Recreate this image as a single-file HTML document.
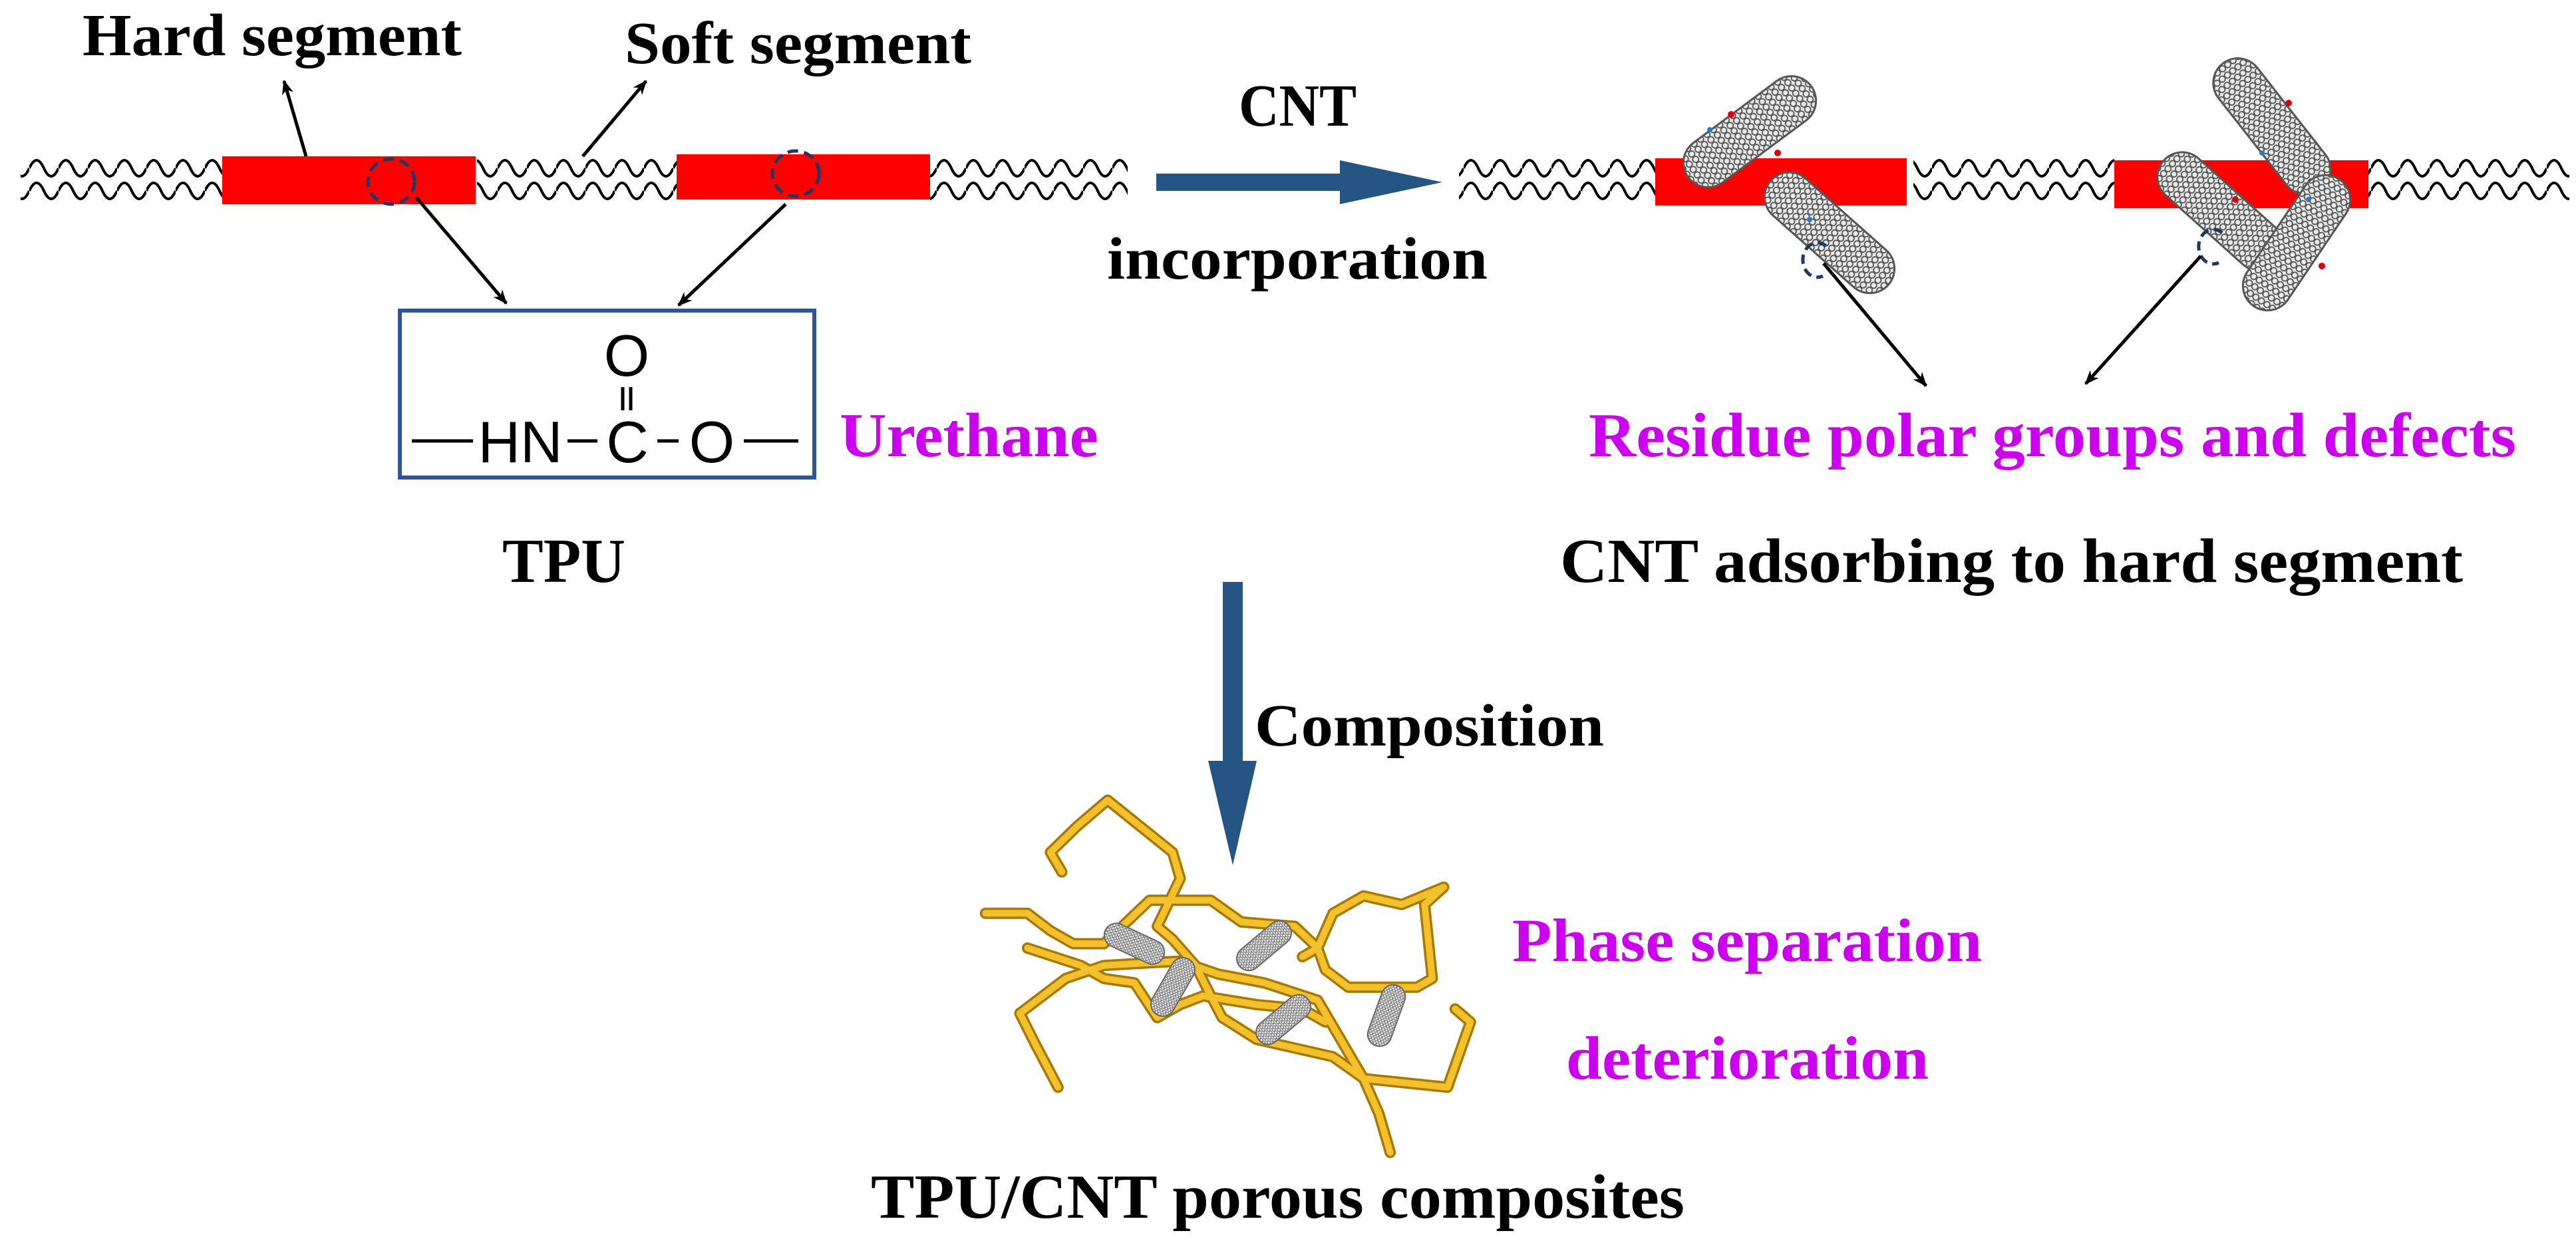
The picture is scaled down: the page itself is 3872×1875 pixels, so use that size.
<!DOCTYPE html>
<html><head><meta charset="utf-8"><style>
html,body{margin:0;padding:0;background:#fff;}
svg{display:block;}
.t{font-family:"Liberation Serif",serif;font-weight:bold;}
.m{fill:#cc00ee;}
</style></head><body>
<svg width="3872" height="1875" viewBox="0 0 3872 1875" xmlns="http://www.w3.org/2000/svg">
<defs>
<pattern id="wave" patternUnits="userSpaceOnUse" x="0" y="238" width="44" height="64">
<path d="M0,15 q11,-24 22,0 t22,0 M0,49 q11,-24 22,0 t22,0" fill="none" stroke="#000" stroke-width="4"/>
</pattern>
<pattern id="hex" patternUnits="userSpaceOnUse" width="12" height="10">
<rect width="12" height="10" fill="#eaeaea"/>
<circle cx="6" cy="5" r="4.5" fill="none" stroke="#555" stroke-width="1.8"/>
</pattern>
<pattern id="hex2" patternUnits="userSpaceOnUse" width="6" height="5">
<rect width="6" height="5" fill="#e4e4e4"/>
<circle cx="3" cy="2.5" r="2.2" fill="none" stroke="#666" stroke-width="1"/>
</pattern>
<marker id="arr" viewBox="0 0 10 10" refX="9" refY="5" markerWidth="26" markerHeight="22" markerUnits="userSpaceOnUse" orient="auto">
<path d="M0,1 L10,5 L0,9 L3,5 z" fill="#000"/>
</marker>
</defs>

<rect x="31" y="238" width="303" height="64" fill="url(#wave)"/>
<rect x="717" y="238" width="300" height="64" fill="url(#wave)"/>
<rect x="1398" y="238" width="297" height="64" fill="url(#wave)"/>
<rect x="2193" y="238" width="295" height="64" fill="url(#wave)"/>
<rect x="2876" y="238" width="302" height="64" fill="url(#wave)"/>
<rect x="3560" y="238" width="302" height="64" fill="url(#wave)"/>

<rect x="334" y="235" width="381" height="72" fill="#ff0000"/>
<rect x="1017" y="232" width="381" height="68" fill="#ff0000"/>
<rect x="2488" y="238" width="378" height="71" fill="#ff0000"/>
<rect x="3178" y="241" width="382" height="72" fill="#ff0000"/>

<ellipse cx="588" cy="273" rx="35" ry="34" fill="none" stroke="#1f3864" stroke-width="5" stroke-dasharray="16,9"/>
<ellipse cx="1196" cy="261" rx="35" ry="34" fill="none" stroke="#1f3864" stroke-width="5" stroke-dasharray="16,9"/>

<text class="t" x="124" y="83" font-size="90" textLength="570" lengthAdjust="spacingAndGlyphs">Hard segment</text>
<text class="t" x="939" y="95" font-size="90" textLength="521" lengthAdjust="spacingAndGlyphs">Soft segment</text>
<line x1="460" y1="235" x2="427" y2="122" stroke="#000" stroke-width="5" marker-end="url(#arr)"/>
<line x1="876" y1="235" x2="971" y2="122" stroke="#000" stroke-width="5" marker-end="url(#arr)"/>
<line x1="625" y1="296" x2="761" y2="456" stroke="#000" stroke-width="5" marker-end="url(#arr)"/>
<line x1="1181" y1="307" x2="1020" y2="459" stroke="#000" stroke-width="5" marker-end="url(#arr)"/>

<rect x="601" y="467" width="623" height="251" fill="#fff" stroke="#2e5597" stroke-width="6"/>
<g font-family="Liberation Sans, sans-serif" font-size="88" fill="#000">
<text x="942" y="565" text-anchor="middle">O</text>
<text x="782" y="695" text-anchor="middle">HN</text>
<text x="943" y="695" text-anchor="middle">C</text>
<text x="1070" y="695" text-anchor="middle">O</text>
</g>
<g stroke="#000" stroke-width="5">
<line x1="619" y1="663" x2="711" y2="663"/>
<line x1="853" y1="663" x2="898" y2="663"/>
<line x1="988" y1="663" x2="1020" y2="663"/>
<line x1="1118" y1="663" x2="1200" y2="663"/>
<line x1="936" y1="582" x2="936" y2="617"/>
<line x1="948" y1="582" x2="948" y2="617"/>
</g>
<text class="t m" x="1262" y="686" font-size="94" textLength="389" lengthAdjust="spacingAndGlyphs">Urethane</text>
<text class="t" x="755" y="875" font-size="94" textLength="185" lengthAdjust="spacingAndGlyphs">TPU</text>

<text class="t" x="1862" y="189" font-size="90" textLength="177" lengthAdjust="spacingAndGlyphs">CNT</text>
<text class="t" x="1664" y="419" font-size="90" textLength="572" lengthAdjust="spacingAndGlyphs">incorporation</text>
<path d="M1738,261 L2014,261 L2014,241 L2168,274 L2014,307 L2014,287 L1738,287 z" fill="#245583"/>

<g stroke="#555" stroke-width="3" fill="url(#hex)">
<rect x="-115" y="-37" width="230" height="74" rx="37" transform="translate(2630,198) rotate(-36.6)"/>
<rect x="-118" y="-37" width="236" height="74" rx="37" transform="translate(2750,350) rotate(41.6)"/>
<rect x="-120" y="-37" width="240" height="74" rx="37" transform="translate(3415,190) rotate(51.9)"/>
<rect x="-115" y="-37" width="230" height="74" rx="37" transform="translate(3338,318) rotate(41.9)"/>
<rect x="-115" y="-37" width="230" height="74" rx="37" transform="translate(3452,365) rotate(124)"/>
</g>
<g fill="#d00"><circle cx="2602" cy="172" r="5"/><circle cx="2672" cy="230" r="5"/><circle cx="3440" cy="155" r="5"/><circle cx="3360" cy="300" r="5"/><circle cx="3490" cy="400" r="5"/></g>
<g fill="#2a7ac0"><circle cx="2570" cy="195" r="4"/><circle cx="2720" cy="330" r="4"/><circle cx="3400" cy="230" r="4"/><circle cx="3470" cy="300" r="4"/></g>
<path d="M2745,370 a22,26 0 1 0 -5,45" fill="none" stroke="#1f3864" stroke-width="5" stroke-dasharray="14,8"/>
<path d="M3340,350 a22,26 0 1 0 -5,45" fill="none" stroke="#1f3864" stroke-width="5" stroke-dasharray="14,8"/>
<line x1="2741" y1="396" x2="2895" y2="580" stroke="#000" stroke-width="5" marker-end="url(#arr)"/>
<line x1="3308" y1="385" x2="3135" y2="577" stroke="#000" stroke-width="5" marker-end="url(#arr)"/>
<text class="t m" x="2388" y="686" font-size="94" textLength="1394" lengthAdjust="spacingAndGlyphs">Residue polar groups and defects</text>
<text class="t" x="2345" y="875" font-size="94" textLength="1357" lengthAdjust="spacingAndGlyphs">CNT adsorbing to hard segment</text>

<path d="M1838,875 L1868,875 L1868,1144 L1889,1144 L1853,1301 L1816,1144 L1838,1144 z" fill="#245583"/>
<text class="t" x="1886" y="1121" font-size="90" textLength="525" lengthAdjust="spacingAndGlyphs">Composition</text>

<g transform="translate(1200,850) scale(1.148,0.654)" fill="none" stroke-linejoin="round" stroke-linecap="round">
<g stroke="#a87800" stroke-width="17">
<polyline vector-effect="non-scaling-stroke" points="345,705 330,660 365,600 405,540 490,660 500,720 470,830 490,860 520,920 540,990 555,1040 600,1090 700,1130 740,1180 760,1260 775,1350"/>
<polyline vector-effect="non-scaling-stroke" points="245,800 300,800 330,840 360,870 400,870 430,820 460,770 540,770 580,820 650,830 680,880 660,900"/>
<polyline vector-effect="non-scaling-stroke" points="300,880 370,920 400,950 440,960 470,1040 500,1010 530,990 600,1010 660,1020 690,1050"/>
<polyline vector-effect="non-scaling-stroke" points="680,880 700,800 740,760 790,780 845,740 820,780 830,950 810,970 720,970 690,930 680,880"/>
<polyline vector-effect="non-scaling-stroke" points="340,1200 310,1100 290,1030 350,950 400,920 500,910 550,940 610,960 680,1000 700,1060 740,1180 850,1200 880,1050 860,1020"/>
</g>
<g stroke="#f3c12c" stroke-width="10">
<polyline vector-effect="non-scaling-stroke" points="345,705 330,660 365,600 405,540 490,660 500,720 470,830 490,860 520,920 540,990 555,1040 600,1090 700,1130 740,1180 760,1260 775,1350"/>
<polyline vector-effect="non-scaling-stroke" points="245,800 300,800 330,840 360,870 400,870 430,820 460,770 540,770 580,820 650,830 680,880 660,900"/>
<polyline vector-effect="non-scaling-stroke" points="300,880 370,920 400,950 440,960 470,1040 500,1010 530,990 600,1010 660,1020 690,1050"/>
<polyline vector-effect="non-scaling-stroke" points="680,880 700,800 740,760 790,780 845,740 820,780 830,950 810,970 720,970 690,930 680,880"/>
<polyline vector-effect="non-scaling-stroke" points="340,1200 310,1100 290,1030 350,950 400,920 500,910 550,940 610,960 680,1000 700,1060 740,1180 850,1200 880,1050 860,1020"/>
</g>
</g>
<g stroke="#666" stroke-width="2" fill="url(#hex2)">
<rect x="-48" y="-18" width="96" height="36" rx="18" transform="translate(1705,1419) rotate(25)"/>
<rect x="-48" y="-18" width="96" height="36" rx="18" transform="translate(1900,1422) rotate(-40)"/>
<rect x="-48" y="-18" width="96" height="36" rx="18" transform="translate(1763,1484) rotate(-60)"/>
<rect x="-48" y="-18" width="96" height="36" rx="18" transform="translate(1929,1533) rotate(-40)"/>
<rect x="-48" y="-18" width="96" height="36" rx="18" transform="translate(2084,1527) rotate(-70)"/>
</g>

<text class="t m" x="2273" y="1445" font-size="92" textLength="706" lengthAdjust="spacingAndGlyphs">Phase separation</text>
<text class="t m" x="2354" y="1622" font-size="92" textLength="545" lengthAdjust="spacingAndGlyphs">deterioration</text>
<text class="t" x="1309" y="1831" font-size="94" textLength="1223" lengthAdjust="spacingAndGlyphs">TPU/CNT porous composites</text>
</svg>
</body></html>
